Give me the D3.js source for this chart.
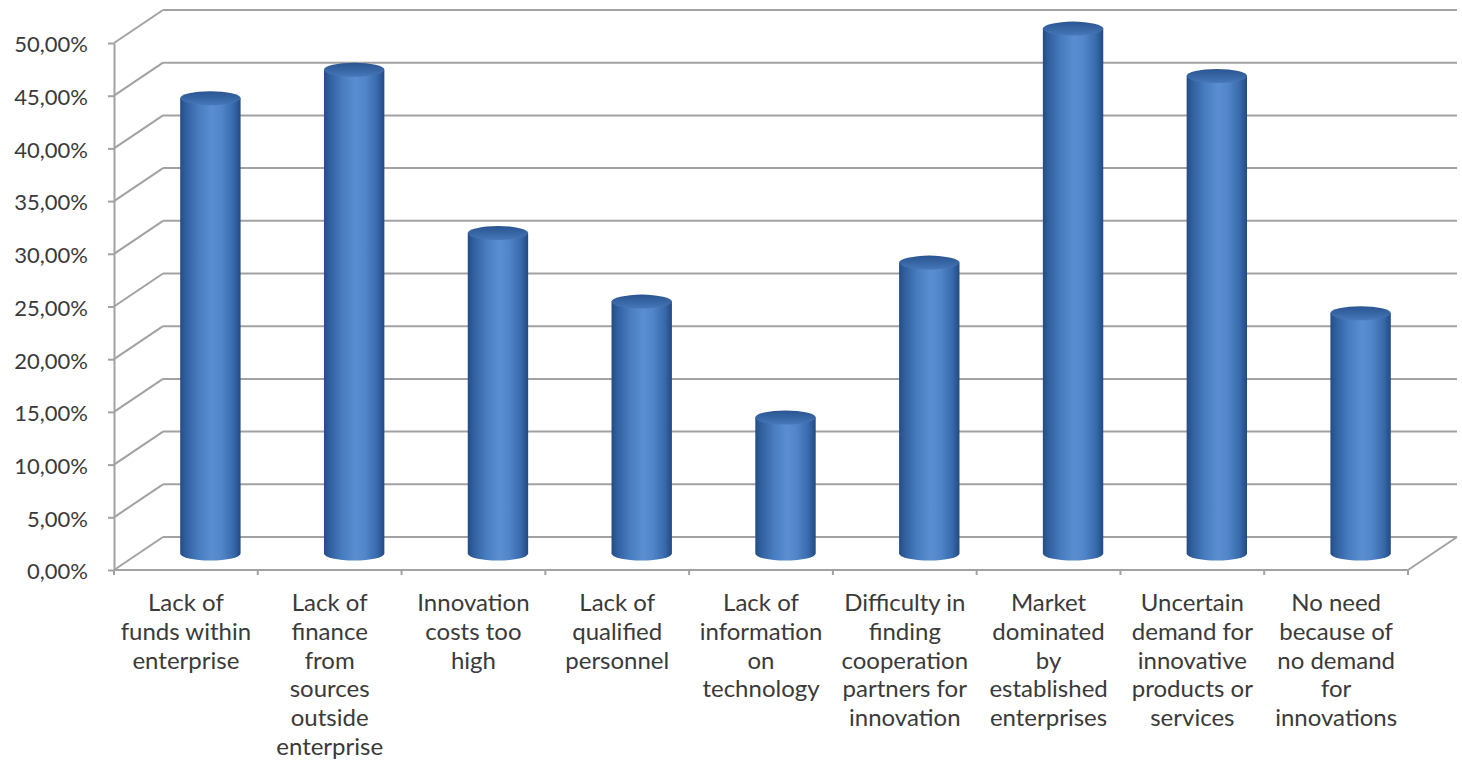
<!DOCTYPE html>
<html>
<head>
<meta charset="utf-8">
<script src="https://cdn.jsdelivr.net/npm/d3@7"></script>
<style>
  html, body { margin: 0; padding: 0; background: #ffffff; }
  svg { display: block; }
  text { font-family: Lato, "Open Sans", sans-serif; fill: #3a3a3a; }
</style>
</head>
<body>
<svg id="chart" width="1462" height="761"></svg>
<script>
// Barriers to innovation: share of enterprises citing each factor
const categories = [
  "Lack of\nfunds within\nenterprise",
  "Lack of\nfinance\nfrom\nsources\noutside\nenterprise",
  "Innovation\ncosts too\nhigh",
  "Lack of\nqualified\npersonnel",
  "Lack of\ninformation\non\ntechnology",
  "Difficulty in\nfinding\ncooperation\npartners for\ninnovation",
  "Market\ndominated\nby\nestablished\nenterprises",
  "Uncertain\ndemand for\ninnovative\nproducts or\nservices",
  "No need\nbecause of\nno demand\nfor\ninnovations"
];
const values = [0.432, 0.459, 0.304, 0.239, 0.129, 0.276, 0.498, 0.453, 0.228];
const yTicks = [0, 0.05, 0.10, 0.15, 0.20, 0.25, 0.30, 0.35, 0.40, 0.45, 0.50];

const svg = d3.select("#chart");

// Front plane of the 3D box and the depth offset to its back wall
const plotLeft = 114, plotRight = 1408, plotBottom = 570, plotTop = 43;
const depthX = 49, depthY = -33;

const x = d3.scaleBand().domain(d3.range(categories.length)).range([plotLeft, plotRight]);
const y = d3.scaleLinear().domain([0, 0.5]).range([plotBottom, plotTop]);
const fmt = v => d3.format(".2f")(v * 100).replace(".", ",") + "%";

const gridColor = "#a2a2a2";
const grid = svg.append("g").attr("stroke", gridColor).attr("stroke-width", 2).attr("fill", "none");

// Back wall horizontal gridlines and side-wall diagonals
yTicks.forEach(t => {
  const yy = y(t);
  grid.append("line")
    .attr("x1", plotLeft + depthX).attr("x2", plotRight + depthX)
    .attr("y1", yy + depthY).attr("y2", yy + depthY);
  grid.append("line")
    .attr("x1", plotLeft).attr("x2", plotLeft + depthX)
    .attr("y1", yy).attr("y2", yy + depthY);
});
// Floor front edge and right side
grid.append("line").attr("x1", plotLeft).attr("x2", plotRight).attr("y1", plotBottom).attr("y2", plotBottom);
grid.append("line").attr("x1", plotRight).attr("x2", plotRight + depthX).attr("y1", plotBottom).attr("y2", plotBottom + depthY);

// Vertical value axis with ticks and labels
const yAxis = svg.append("g")
  .attr("transform", `translate(${plotLeft},0)`)
  .call(d3.axisLeft(y).tickValues(yTicks).tickFormat(fmt).tickSizeInner(6).tickSizeOuter(0).tickPadding(20));
yAxis.select(".domain").attr("stroke", gridColor).attr("stroke-width", 2);
yAxis.selectAll(".tick line").attr("stroke", gridColor).attr("stroke-width", 2);
yAxis.selectAll(".tick text")
  .attr("font-family", "Lato, sans-serif")
  .attr("font-size", 22)
  .attr("fill", "#3a3a3a")
  .attr("dy", "0.4em");

// Category tick marks at band boundaries
const catTicks = d3.range(categories.length + 1).map(i => plotLeft + i * x.step());
svg.append("g").selectAll("line").data(catTicks).join("line")
  .attr("x1", d => d).attr("x2", d => d)
  .attr("y1", plotBottom).attr("y2", plotBottom + 5)
  .attr("stroke", gridColor).attr("stroke-width", 2);

// Category labels, wrapped onto several lines
const xAxis = svg.append("g")
  .attr("transform", `translate(0,${plotBottom})`)
  .call(d3.axisBottom(x).tickSize(0).tickFormat(""));
xAxis.select(".domain").remove();
xAxis.selectAll(".tick").each(function(d) {
  const t = d3.select(this).append("text")
    .attr("text-anchor", "middle")
    .attr("font-family", "Lato, sans-serif")
    .attr("font-size", 24)
    .attr("fill", "#3a3a3a");
  categories[d].split("\n").forEach((line, i) => {
    t.append("tspan").attr("x", 0).attr("y", 41 + i * 28.8).text(line);
  });
});

// Gradients for the cylinders
const defs = svg.append("defs");
const body = defs.append("linearGradient").attr("id", "cylBody").attr("x1", 0).attr("x2", 1).attr("y1", 0).attr("y2", 0);
[[0, "#234c85"], [0.08, "#2f5d9b"], [0.3, "#477cc0"], [0.52, "#5a8ed1"], [0.68, "#5286ca"], [0.88, "#386aab"], [1, "#224a83"]]
  .forEach(([o, c]) => body.append("stop").attr("offset", o).attr("stop-color", c));
const cap = defs.append("linearGradient").attr("id", "cylTop").attr("x1", 0).attr("x2", 0).attr("y1", 0).attr("y2", 1);
[[0, "#2a5591"], [0.6, "#3a69a8"], [1, "#4778ba"]]
  .forEach(([o, c]) => cap.append("stop").attr("offset", o).attr("stop-color", c));

// Cylinders stand at mid-depth of the box
const rx = x.bandwidth() * 0.21, ry = 7;
const bars = svg.append("g").selectAll("g").data(values).join("g");
bars.append("path")
  .attr("fill", "url(#cylBody)")
  .attr("d", (v, i) => {
    const cx = x(i) + x.bandwidth() / 2 + depthX / 2;
    const yb = y(0) + depthY / 2;
    const yt = y(v) + depthY / 2;
    return `M${cx - rx},${yt} L${cx - rx},${yb} A${rx},${ry} 0 0 0 ${cx + rx},${yb} L${cx + rx},${yt} Z`;
  });
bars.append("ellipse")
  .attr("fill", "url(#cylTop)")
  .attr("cx", (v, i) => x(i) + x.bandwidth() / 2 + depthX / 2)
  .attr("cy", v => y(v) + depthY / 2)
  .attr("rx", rx).attr("ry", ry);
</script>
</body>
</html>
